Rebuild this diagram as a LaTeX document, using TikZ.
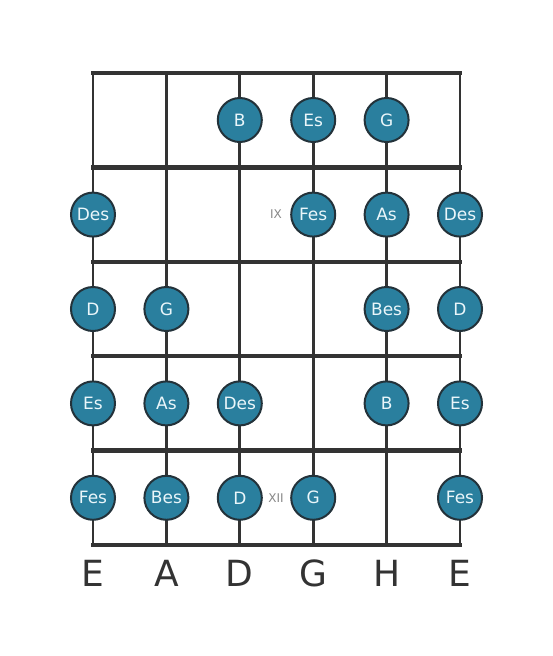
\documentclass[tikz,border=0pt]{standalone}
\usepackage{fontspec}
\setmainfont{DejaVu Sans}
\definecolor{lin}{HTML}{333333}
\definecolor{notefill}{HTML}{2A7F9E}
\definecolor{noteedge}{HTML}{23323A}
\definecolor{notetext}{HTML}{EAF6FA}
\definecolor{marktext}{HTML}{888888}
\begin{document}
\begin{tikzpicture}[x=1pt,y=-1pt,
  fretline/.style={line width=4.5pt,draw=lin},
  stringline/.style={line width=2.8pt,draw=lin},
  notecirc/.style={circle,fill=notefill,draw=noteedge,line width=2pt,minimum size=44pt,inner sep=0pt,text=notetext,font=\fontsize{17}{17}\selectfont},
  fretmark/.style={text=marktext,font=\fontsize{12}{12}\selectfont},
  strname/.style={text=lin,font=\fontsize{36}{36}\selectfont}]
\useasboundingbox (0,0) rectangle (553,656);
\fill[white] (0,0) rectangle (553,656);
% strings
\foreach \i/\x in {1/93,2/166.4,3/239.8,4/313.2,5/386.6,6/460}{
  \coordinate (s\i t) at (\x,73);
  \coordinate (s\i b) at (\x,545);
  \draw[stringline] (s\i t) -- (s\i b);
}
% frets
\foreach \j/\y in {0/73,1/167.4,2/261.8,3/356.2,4/450.6,5/545}{
  \coordinate (f\j l) at (93,\y);
  \coordinate (f\j r) at (460,\y);
  \draw[fretline,line cap=rect] (f\j l) -- (f\j r);
}
% notes
\node[notecirc] (n1c) at (239.8,120) {B};
\node[notecirc] (n1d) at (313.2,120) {Es};
\node[notecirc] (n1e) at (386.6,120) {G};
\node[notecirc] (n2a) at (93,214.6) {Des};
\node[notecirc] (n2d) at (313.2,214.6) {Fes};
\node[notecirc] (n2e) at (386.6,214.6) {As};
\node[notecirc] (n2f) at (460,214.6) {Des};
\node[notecirc] (n3a) at (93,309) {D};
\node[notecirc] (n3b) at (166.4,309) {G};
\node[notecirc] (n3e) at (386.6,309) {Bes};
\node[notecirc] (n3f) at (460,309) {D};
\node[notecirc] (n4a) at (93,403.4) {Es};
\node[notecirc] (n4b) at (166.4,403.4) {As};
\node[notecirc] (n4c) at (239.8,403.4) {Des};
\node[notecirc] (n4e) at (386.6,403.4) {B};
\node[notecirc] (n4f) at (460,403.4) {Es};
\node[notecirc] (n5a) at (93,497.8) {Fes};
\node[notecirc] (n5b) at (166.4,497.8) {Bes};
\node[notecirc] (n5c) at (239.8,497.8) {D};
\node[notecirc] (n5d) at (313.2,497.8) {G};
\node[notecirc] (n5f) at (460,497.8) {Fes};
% fret markers
\node[fretmark] (mix) at (276,214.6) {IX};
\node[fretmark] (mxii) at (276,497.8) {XII};
% string names
\foreach \i/\x/\t in {1/93/E,2/166.4/A,3/239.8/D,4/313.2/G,5/386.6/H,6/460/E}{
  \node[strname] (l\i) at (\x,573) {\t};
}
\end{tikzpicture}
\end{document}
